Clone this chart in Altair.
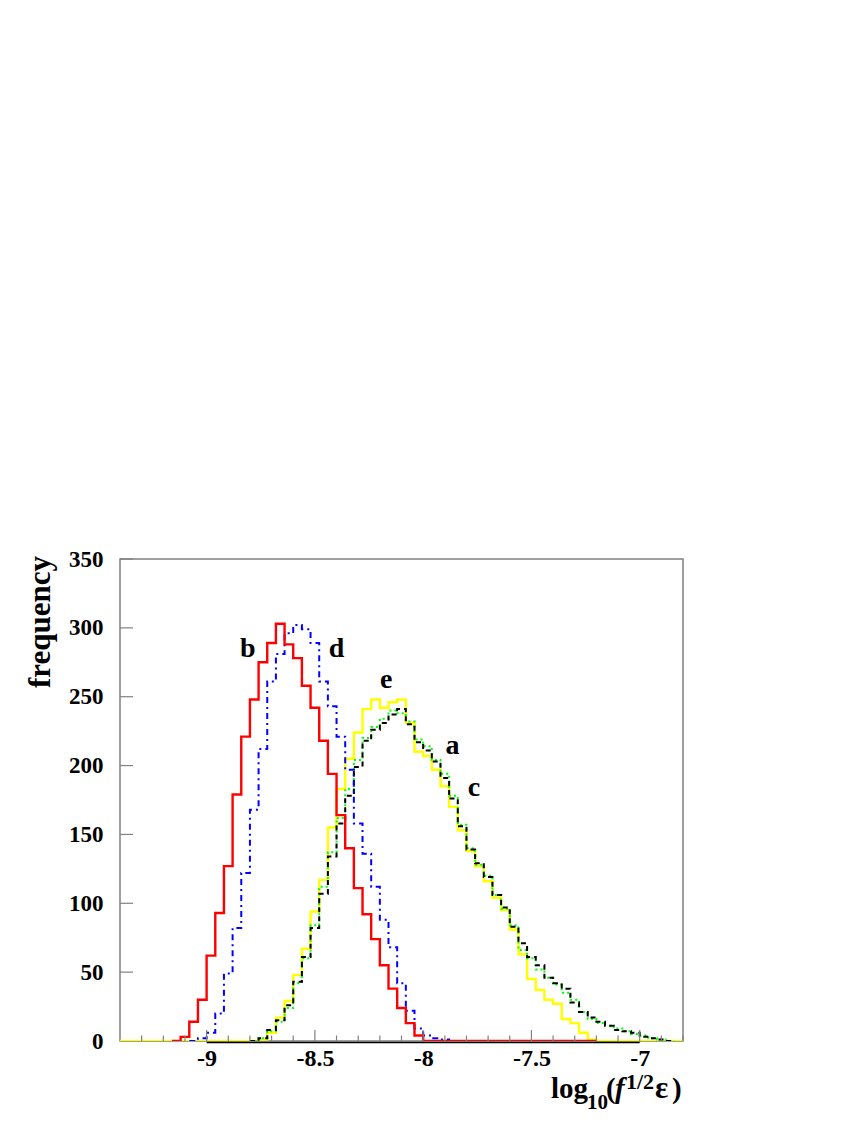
import altair as alt
import pandas as pd
import numpy as np

# ---------------- data ----------------
X_MIN, X_MAX, BIN_W = -9.4, -6.8, 0.04

# series b (red, solid): counts starting at bin 7
B_FIRST = 7
B_COUNTS = [3, 14, 30, 62, 93, 127, 179, 221, 248, 275, 289, 303, 288, 278,
            258, 242, 218, 194, 164, 140, 111, 92, 74, 55, 38, 24, 13, 4]
# series d (blue, dash-dot): counts starting at bin 9
D_FIRST = 9
D_COUNTS = [2, 6, 20, 49, 82, 122, 168, 212, 261, 281, 296, 302, 299, 289,
            261, 243, 221, 197, 158, 136, 112, 88, 68, 42, 22, 9, 4, 2, 1]
# series e (yellow, solid): counts starting at bin 16
E_FIRST = 16
E_COUNTS = [1, 6, 17, 29, 48, 67, 94, 117, 155, 183, 205, 224, 241, 248, 242,
            246, 248, 231, 210, 207, 197, 185, 170, 153, 138, 127, 116, 104,
            95, 81, 63, 45, 37, 30, 27, 16, 13, 6, 1]
# series c (black, dashed): counts starting at bin 16
C_FIRST = 16
C_COUNTS = [2, 8, 15, 26, 43, 61, 82, 107, 134, 158, 178, 199, 218, 226, 231,
            237, 241, 230, 217, 211, 203, 191, 176, 156, 139, 129, 119, 106,
            97, 83, 71, 61, 55, 46, 42, 38, 28, 21, 17, 14, 11, 8, 7, 6, 3, 2, 1]
# series a (green, dotted): counts starting at bin 16
A_FIRST = 16
A_COUNTS = [2, 7, 14, 24, 42, 60, 84, 112, 137, 162, 183, 204, 220, 228, 234,
            240, 238, 232, 219, 214, 204, 194, 178, 157, 140, 128, 120, 106,
            96, 84, 66, 60, 52, 46, 41, 35, 30, 21, 16, 13, 11, 9, 7, 5, 4, 2, 1]

X_LABELS = [-9, -8.5, -8, -7.5, -7]
Y_LABELS = [0, 50, 100, 150, 200, 250, 300, 350]

ANNOT_TEXT = ["b", "d", "e", "a", "c"]
ANNOT_X = [-8.81, -8.40, -8.17, -7.865, -7.765]
ANNOT_Y = [285, 285, 262, 214, 184]

# ---------------- helpers ----------------
W, H = 563, 482
FONT = "Liberation Serif"


def step_frame(first, counts, range_start, range_end):
    """Histogram outline rows for a step-after line over bins range_start..range_end."""
    vals = {first + i: c for i, c in enumerate(counts)}
    rows = []
    for k in range(range_start, range_end + 1):
        rows.append({"x": X_MIN + BIN_W * k, "v": vals.get(k, 0)})
    rows.append({"x": X_MIN + BIN_W * (range_end + 1), "v": vals.get(range_end, 0)})
    return pd.DataFrame(rows)


xs = alt.Scale(domain=[X_MIN, X_MAX], nice=False, zero=False)
ys = alt.Scale(domain=[0, 350], nice=False, zero=True)

XAXIS = alt.Axis(values=X_LABELS, labelExpr="'' + datum.value", ticks=False,
                 domain=False, grid=False, title=None, labelFont=FONT,
                 labelFontWeight="bold", labelFontSize=24, labelColor="black",
                 labelPadding=5, labelFlush=False, labelOverlap=False)
YAXIS = alt.Axis(values=Y_LABELS, ticks=False, domain=False, grid=False,
                 title=None, labelFont=FONT, labelFontWeight="bold",
                 labelFontSize=23, labelColor="black", labelPadding=17,
                 labelFlush=False, labelOverlap=False)


def X(field):
    return alt.X(field, scale=xs, axis=XAXIS)


def Y(field):
    return alt.Y(field, scale=ys, axis=YAXIS)


def hist_layer(df, color, width, dash=None):
    kw = dict(interpolate="step-after", color=color, strokeWidth=width,
              strokeCap="butt", clip=True)
    if dash:
        kw["strokeDash"] = dash
    return alt.Chart(df).mark_line(**kw).encode(x=X("x:Q"), y=Y("v:Q"))


red = hist_layer(step_frame(B_FIRST, B_COUNTS, 6, 54), "#ff0000", 2.4)
blue = hist_layer(step_frame(D_FIRST, D_COUNTS, 8, 54), "#0000ff", 2.0, [6, 4, 2, 4])
yellow = hist_layer(step_frame(E_FIRST, E_COUNTS, 0, 64), "#ffff00", 2.4)
black = hist_layer(step_frame(C_FIRST, C_COUNTS, 15, 63), "#000000", 2.0, [5, 4])
green = hist_layer(step_frame(A_FIRST, A_COUNTS, 15, 63), "#00ff00", 2.0, [2, 3])

zero_rule = alt.Chart(pd.DataFrame({"x": [-9.0], "x2": [-7.0], "y": [0]})).mark_rule(
    color="black", strokeWidth=1.5, yOffset=1.5
).encode(x=X("x:Q"), x2="x2:Q", y=Y("y:Q"))

# inward ticks
major_x = pd.DataFrame({"t": X_LABELS})
minor_vals = [round(v, 2) for v in np.arange(-9.3, -6.8 + 1e-9, 0.1)
              if min(abs(v - m) for m in X_LABELS) > 1e-6]
minor_x = pd.DataFrame({"t": minor_vals})
major_y = pd.DataFrame({"t": Y_LABELS[1:]})

TICK_COL = "#808080"
xt_major = alt.Chart(major_x).mark_rule(color=TICK_COL, strokeWidth=1.2).encode(
    x=X("t:Q"), y=alt.value(H), y2=alt.value(H - 11))
xt_minor = alt.Chart(minor_x).mark_rule(color=TICK_COL, strokeWidth=1.2).encode(
    x=X("t:Q"), y=alt.value(H), y2=alt.value(H - 5.5))
yt_major = alt.Chart(major_y).mark_rule(color=TICK_COL, strokeWidth=1.2).encode(
    y=Y("t:Q"), x=alt.value(0), x2=alt.value(13))

# curve annotations
annot = alt.Chart(pd.DataFrame({"x": ANNOT_X, "y": ANNOT_Y, "t": ANNOT_TEXT})).mark_text(
    font=FONT, fontWeight="bold", fontSize=28, color="black", baseline="middle",
    align="center"
).encode(x=X("x:Q"), y=Y("y:Q"), text="t:N")


def txt(s, x, y, size=27, style="normal", align="left", angle=0):
    kw = dict(font=FONT, fontWeight="bold", fontSize=size, color="black",
              align=align, baseline="alphabetic", fontStyle=style)
    if angle:
        kw["angle"] = angle
    return alt.Chart(pd.DataFrame({"s": [s]})).mark_text(**kw).encode(
        x=alt.value(x), y=alt.value(y), text="s:N")


ytitle = txt("frequency", -70, -3, size=31, align="right", angle=270)
xtitle = alt.layer(
    txt("log", 431, 539, size=29),
    txt("10", 467, 550, size=21),
    txt("(", 486, 539, size=29),
    txt("f", 495, 539, size=29, style="italic"),
    txt("1/2", 506, 530, size=22),
    txt("\u03b5", 535, 539, size=31),
    txt(")", 552, 539, size=29),
)

chart = alt.layer(
    yellow, zero_rule, green, black, blue, red,
    xt_major, xt_minor, yt_major, annot, ytitle, xtitle
).properties(
    width=W, height=H,
    autosize=alt.AutoSizeParams(type="none"),
    padding={"left": 112, "top": 551, "right": 170, "bottom": 80},
    background="white",
).configure_view(stroke="#808080", strokeWidth=1.5)

chart.save("out.html", embed_options={"renderer": "svg", "actions": False})
